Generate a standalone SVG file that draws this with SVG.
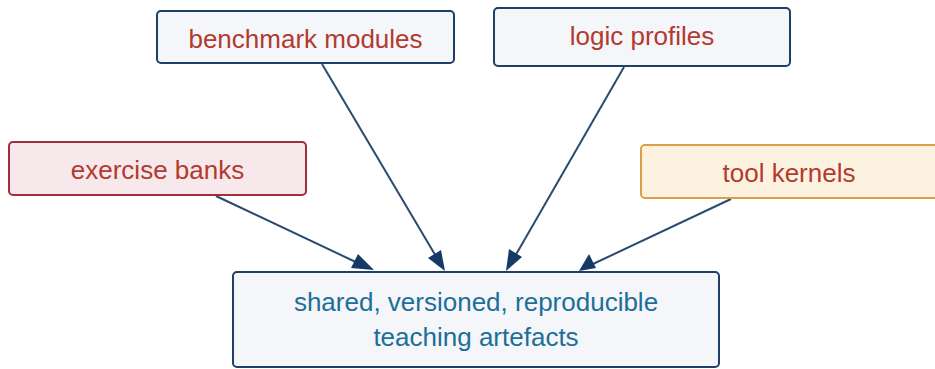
<svg xmlns="http://www.w3.org/2000/svg" width="935" height="369" viewBox="0 0 935 369">
<defs>
<style>
.box{fill:#f4f6fa;stroke:#1f3f66;stroke-width:2}
.red{fill:#f7e8eb;stroke:#a52c39;stroke-width:2}
.org{fill:#fdf2e0;stroke:#d9a048;stroke-width:2}
.t{font-family:"Liberation Sans","DejaVu Sans",sans-serif;font-size:26px;fill:#b23a2e;text-anchor:middle}
.b{fill:#1c6f97}
.e{stroke:#2a4a70;stroke-width:2;fill:none}
.hd{fill:#163a66}
</style>
</defs>
<g id="connectors">
<line class="e" x1="216" y1="196" x2="360" y2="264"/>
<polygon class="hd" points="374,270 351,268 358,254"/>
<line class="e" x1="322" y1="64" x2="437" y2="258"/>
<polygon class="hd" points="445,271 428,258 441,250"/>
<line class="e" x1="624" y1="67" x2="514" y2="258"/>
<polygon class="hd" points="506,271 509,249 522,257"/>
<line class="e" x1="731" y1="199" x2="593" y2="264"/>
<polygon class="hd" points="579,271 589,254 596,268"/>
</g>
<g id="benchmark">
<rect class="box" x="157" y="11" width="297" height="52" rx="4"/>
<text class="t" x="305.5" y="48">benchmark modules</text>
</g>
<g id="logic">
<rect class="box" x="494" y="8" width="296" height="58" rx="4"/>
<text class="t" x="642" y="45">logic profiles</text>
</g>
<g id="exercise">
<rect class="red" x="9" y="142" width="297" height="53" rx="4"/>
<text class="t" x="157.5" y="179">exercise banks</text>
</g>
<g id="tool">
<rect class="org" x="641" y="145" width="300" height="53" rx="4"/>
<text class="t" x="789" y="182">tool kernels</text>
</g>
<g id="artefacts">
<rect class="box" x="233" y="272" width="486" height="95" rx="4"/>
<text class="t b" x="476" y="311">shared, versioned, reproducible</text>
<text class="t b" x="476" y="346">teaching artefacts</text>
</g>
</svg>
